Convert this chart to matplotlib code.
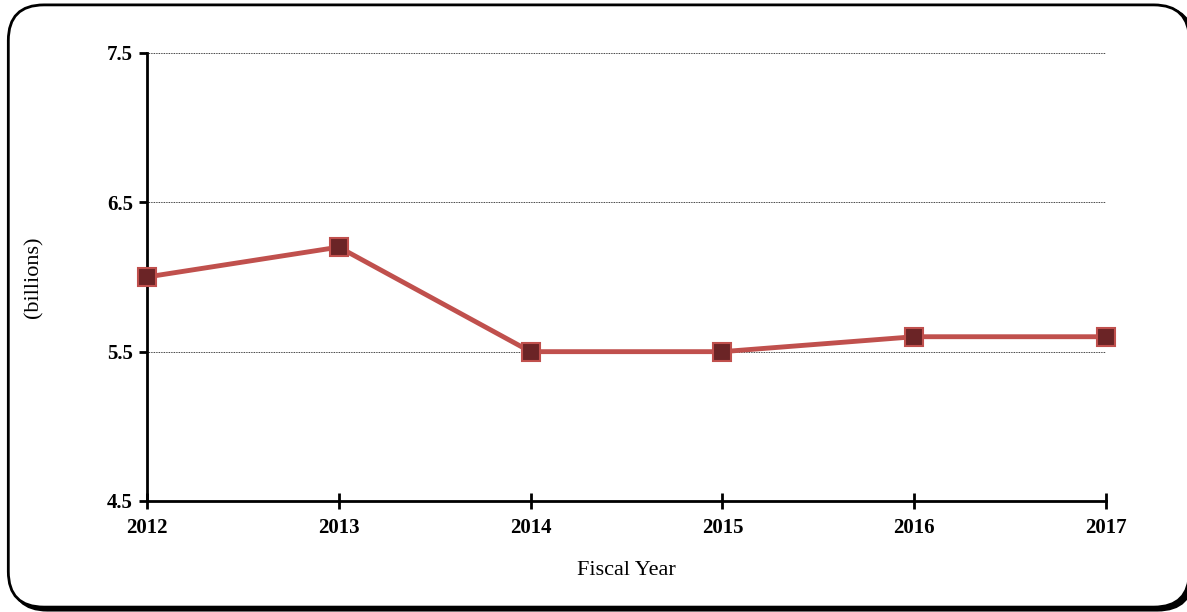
import matplotlib
matplotlib.use('Agg')
import matplotlib.pyplot as plt
from matplotlib.patches import FancyBboxPatch

years = [2012, 2013, 2014, 2015, 2016, 2017]
values = [6.0, 6.2, 5.5, 5.5, 5.6, 5.6]
yticks = [4.5, 5.5, 6.5, 7.5]

plt.rcParams['font.family'] = ['Liberation Serif', 'DejaVu Serif']

fig = plt.figure(figsize=(11.87, 6.12), dpi=100)

# rounded frame with a small shadow (runs off the right edge like the original)
shadow = FancyBboxPatch((0.010, 0.003), 0.995, 0.985,
                        boxstyle="round,pad=0,rounding_size=0.03",
                        transform=fig.transFigure, facecolor='black',
                        edgecolor='black', lw=2, zorder=0,
                        mutation_aspect=1187 / 612)
frame = FancyBboxPatch((0.007, 0.008), 0.995, 0.984,
                       boxstyle="round,pad=0,rounding_size=0.03",
                       transform=fig.transFigure, facecolor='white',
                       edgecolor='black', lw=2, zorder=1,
                       mutation_aspect=1187 / 612)
fig.patches.extend([shadow, frame])

ax = fig.add_axes([0.1238, 0.1814, 0.808, 0.732])
ax.set_zorder(2)
ax.patch.set_visible(False)

ax.plot(years, values, color='#C0504D', lw=3.5, marker='s', markersize=13,
        markerfacecolor='#6B2426', markeredgecolor='#C0504D',
        markeredgewidth=1.5, zorder=3, clip_on=False)

ax.set_xlim(2012, 2017)
ax.set_ylim(4.5, 7.5)
ax.set_xticks(years)
ax.set_yticks(yticks)
ax.set_yticklabels(['4.5', '5.5', '6.5', '7.5'])
ax.yaxis.grid(True, color='black', linestyle=(0, (1, 1)), lw=0.6)
ax.set_axisbelow(True)

for s in ['top', 'right']:
    ax.spines[s].set_visible(False)
for s in ['left', 'bottom']:
    ax.spines[s].set_linewidth(2)

ax.tick_params(axis='y', direction='out', length=6, width=2, labelsize=15, pad=4)
ax.tick_params(axis='x', direction='inout', length=12, width=2, labelsize=15, pad=6)
for lbl in ax.get_xticklabels() + ax.get_yticklabels():
    lbl.set_fontweight('bold')

ax.set_xlabel('Fiscal Year', fontsize=16, labelpad=17)
ax.set_ylabel('(billions)', fontsize=16, labelpad=46)

fig.savefig('out.png', dpi=100)
